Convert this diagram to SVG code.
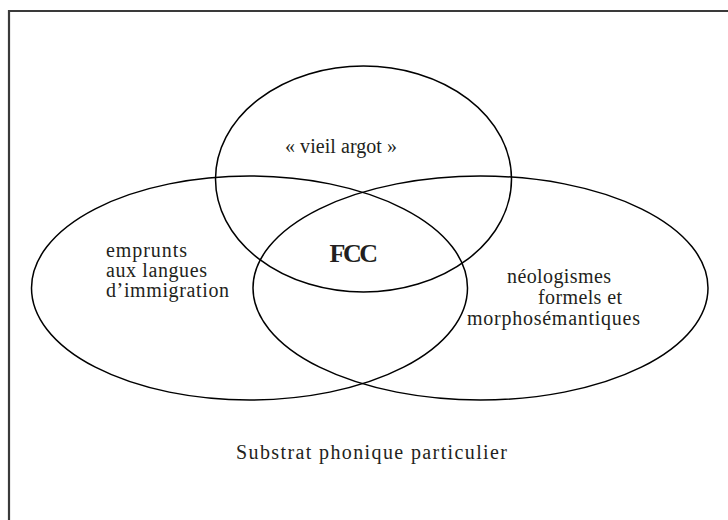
<svg xmlns="http://www.w3.org/2000/svg" width="728" height="520" viewBox="0 0 728 520">
<style>
.frame{fill:none;stroke:#3a3a3a;stroke-width:2.2}
.set{fill:none;stroke:#000;stroke-width:1.5}
.lbl{font-family:"Liberation Serif","Times New Roman",serif;font-size:20px;fill:#231f20}
.core{font-family:"Liberation Serif","Times New Roman",serif;font-size:26px;font-weight:bold;fill:#231f20}
</style>
<rect width="728" height="520" fill="#fff"/>
<path class="frame" d="M9 521 V11 H729"/>
<g id="vieil-argot">
<ellipse class="set" cx="363.5" cy="179" rx="148" ry="113"/>
<text class="lbl" x="285" y="153" textLength="112">« vieil argot »</text>
</g>
<g id="emprunts">
<ellipse class="set" cx="249.5" cy="288" rx="218" ry="112"/>
<text class="lbl" x="106" y="257" textLength="81">emprunts</text>
<text class="lbl" x="106" y="277" textLength="101">aux langues</text>
<text class="lbl" x="106" y="297" textLength="123">d’immigration</text>
</g>
<g id="neologismes">
<ellipse class="set" cx="480.5" cy="288" rx="227.5" ry="112"/>
<text class="lbl" x="507" y="283" textLength="104">néologismes</text>
<text class="lbl" x="538" y="304" textLength="84">formels et</text>
<text class="lbl" x="467" y="325" textLength="173">morphosémantiques</text>
</g>
<g id="fcc">
<text class="core" x="329.5" y="262" textLength="48.5">FCC</text>
</g>
<g id="substrat">
<text class="lbl" x="236" y="459" textLength="271">Substrat phonique particulier</text>
</g>
<g id="connectors"/>
</svg>
